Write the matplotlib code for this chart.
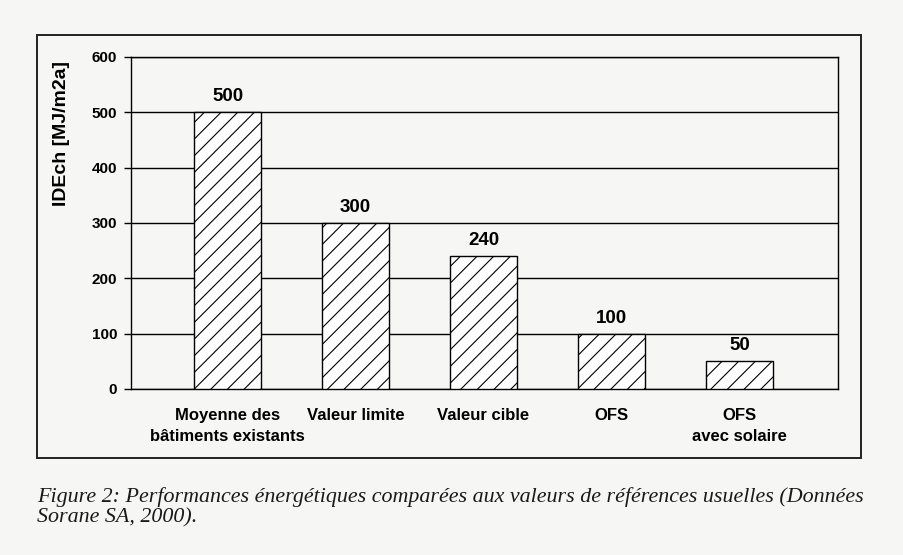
import matplotlib
matplotlib.use("Agg")
import matplotlib.pyplot as plt
from matplotlib.patches import Rectangle

categories = ["Moyenne des\nbâtiments existants", "Valeur limite", "Valeur cible", "OFS", "OFS\navec solaire"]
values = [500, 300, 240, 100, 50]
yticks = [0, 100, 200, 300, 400, 500, 600]
ylabel = "IDEch [MJ/m2a]"
caption = "Figure 2: Performances énergétiques comparées aux valeurs de références usuelles (Données\nSorane SA, 2000)."

W, H = 904, 555
bg = "#f6f6f4"
plt.rcParams["hatch.linewidth"] = 0.8
fig = plt.figure(figsize=(W / 100, H / 100), dpi=100, facecolor=bg)

ax = fig.add_axes([131 / W, 1 - 389 / H, (838 - 131) / W, (389 - 57) / H])
ax.set_facecolor(bg)

x = list(range(len(categories)))
bars = ax.bar(x, values, width=0.52, color="white", edgecolor="black", linewidth=1.0,
              hatch="//", zorder=3)
for xi, v in zip(x, values):
    ax.annotate(str(v), (xi, v), xytext=(0, 5), textcoords="offset points",
                ha="center", va="bottom", fontsize=13.5, fontweight="bold",
                family="Liberation Sans", zorder=4)

ax.set_xlim(-0.755, 4.77)
ax.set_ylim(0, 600)
ax.set_yticks(yticks)
ax.set_yticklabels([str(t) for t in yticks], fontsize=11, fontweight="bold", family="Liberation Sans")
ax.yaxis.grid(True, color="black", linewidth=1.0, zorder=0)
ax.set_axisbelow(True)
ax.tick_params(axis="y", length=5, width=1.0, pad=5)
ax.tick_params(axis="x", length=0, pad=14)
ax.set_xticks(x)
ax.set_xticklabels(categories, fontsize=12, fontweight="bold", family="Liberation Sans",
                   linespacing=1.45, va="top")
for s in ax.spines.values():
    s.set_linewidth(1.0)
    s.set_color("black")

fig.text(62 / W, 1 - 134 / H, ylabel, rotation=90, ha="center", va="center",
         fontsize=14, fontweight="bold", family="Liberation Sans")

fig.add_artist(Rectangle((37 / W, 1 - 458 / H), (861 - 37) / W, (458 - 35) / H,
                         transform=fig.transFigure, fill=False, edgecolor="#222222", linewidth=1.4))

fig.text(37 / W, 1 - 487 / H, caption, ha="left", va="top", fontsize=15.8, style="italic",
         family="Liberation Serif", color="#1a1a1a", linespacing=1.1)

fig.savefig("out.png", dpi=100, facecolor=bg)
